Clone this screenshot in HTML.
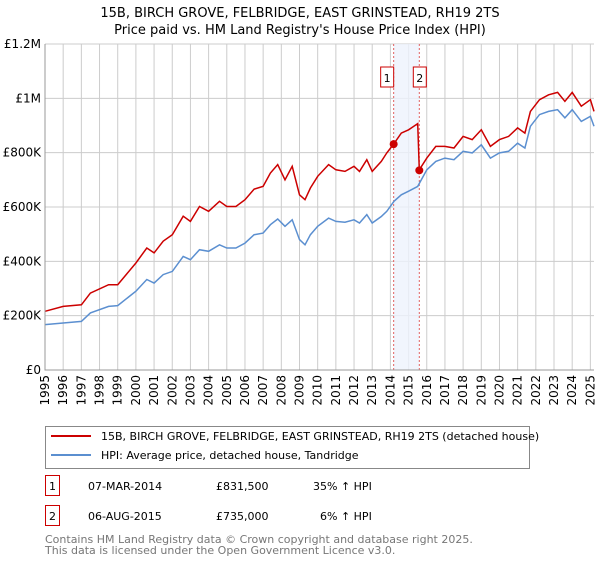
<!DOCTYPE html>
<html><head><meta charset="utf-8"><style>
body{margin:0;background:#fff;font-family:"Liberation Sans","DejaVu Sans",sans-serif;}
svg text{font-family:"DejaVu Sans","Liberation Sans",sans-serif;}
</style></head><body>
<svg id="c" width="600" height="560" xmlns="http://www.w3.org/2000/svg">
<text x="300" y="17" text-anchor="middle" font-size="13" fill="#000">15B, BIRCH GROVE, FELBRIDGE, EAST GRINSTEAD, RH19 2TS</text>
<text x="300" y="34" text-anchor="middle" font-size="13" fill="#000">Price paid vs. HM Land Registry's House Price Index (HPI)</text>
<g id="grid"></g>
<g id="marks"></g>
<g id="axes"></g>
<g>
<rect x="45.5" y="426.5" width="484" height="42" fill="#fff" stroke="#888"/>
<line x1="51" y1="436" x2="91" y2="436" stroke="#cc0000" stroke-width="2"/>
<text x="101" y="440" font-size="11">15B, BIRCH GROVE, FELBRIDGE, EAST GRINSTEAD, RH19 2TS (detached house)</text>
<line x1="51" y1="455" x2="91" y2="455" stroke="#5b8fd0" stroke-width="2"/>
<text x="101" y="459" font-size="11">HPI: Average price, detached house, Tandridge</text>
</g>
<g>
<rect x="45.5" y="475.5" width="14" height="20" fill="none" stroke="#cc0000"/>
<text x="52.5" y="490" font-size="11" text-anchor="middle">1</text>
<text x="88" y="490" font-size="11">07-MAR-2014</text>
<text x="216" y="490" font-size="11">£831,500</text>
<text x="313" y="490" font-size="11">35% ↑ HPI</text>
</g>
<g>
<rect x="45.5" y="505.5" width="14" height="20" fill="none" stroke="#cc0000"/>
<text x="52.5" y="520" font-size="11" text-anchor="middle">2</text>
<text x="88" y="520" font-size="11">06-AUG-2015</text>
<text x="216" y="520" font-size="11">£735,000</text>
<text x="320" y="520" font-size="11">6% ↑ HPI</text>
</g>
<text x="45" y="543" font-size="11" fill="#777">Contains HM Land Registry data © Crown copyright and database right 2025.</text>
<text x="45" y="554" font-size="11" fill="#777">This data is licensed under the Open Government Licence v3.0.</text>
</svg>
<script>
const yTicks=[0,200,400,600,800,1000,1200];
const yTickLabels=["£0","£200K","£400K","£600K","£800K","£1M","£1.2M"];
const xYears=[1995,1996,1997,1998,1999,2000,2001,2002,2003,2004,2005,2006,2007,2008,2009,2010,2011,2012,2013,2014,2015,2016,2017,2018,2019,2020,2021,2022,2023,2024,2025];
const hpiT=[1995,1996,1997,1997.5,1998.5,1999,2000,2000.6,2001,2001.5,2002,2002.6,2003,2003.5,2004,2004.6,2005,2005.5,2006,2006.5,2007,2007.4,2007.8,2008.2,2008.6,2009,2009.3,2009.6,2010,2010.6,2011,2011.5,2012,2012.3,2012.7,2013,2013.5,2013.8,2014.2,2014.6,2015,2015.5,2016,2016.5,2017,2017.5,2018,2018.5,2019,2019.5,2020,2020.5,2021,2021.4,2021.7,2022.2,2022.7,2023.2,2023.6,2024,2024.5,2025,2025.2];
const hpiV=[167,173,179,210,234,237,290,333,320,351,363,418,406,443,437,461,449,449,467,498,504,535,556,529,553,480,461,498,529,559,547,544,553,541,572,541,565,584,621,645,658,676,737,768,780,774,805,799,829,780,799,805,835,817,897,940,952,958,928,958,915,934,897];
const priceT=[1995,1996,1997,1997.5,1998.5,1999,2000,2000.6,2001,2001.5,2002,2002.6,2003,2003.5,2004,2004.6,2005,2005.5,2006,2006.5,2007,2007.4,2007.8,2008.2,2008.6,2009,2009.3,2009.6,2010,2010.6,2011,2011.5,2012,2012.3,2012.7,2013,2013.5,2013.8,2014.18,2014.6,2015,2015.5,2015.59,2016,2016.5,2017,2017.5,2018,2018.5,2019,2019.5,2020,2020.5,2021,2021.4,2021.7,2022.2,2022.7,2023.2,2023.6,2024,2024.5,2025,2025.2];
const priceV=[216,234,240,283,314,314,394,449,431,474,498,566,547,602,584,621,602,602,627,666,676,725,756,700,750,645,627,670,713,756,737,731,750,731,774,731,768,799,832,872,884,907,737,780,823,823,817,860,848,884,823,848,860,891,872,952,995,1013,1022,989,1022,971,995,952];
const saleT=[2014.18,2015.59];
const saleV=[831.5,735];
const saleLabels=["1","2"];
const NS="http://www.w3.org/2000/svg";
const X0=45,X1=594,Y0=370,Y1=44;
const x=t=>X0+(t-1995)/(2025.2-1995)*(X1-X0);
const y=v=>Y0-v/1200*(Y0-Y1);
function mk(tag,attrs,parent){const e=document.createElementNS(NS,tag);for(const k in attrs)e.setAttribute(k,attrs[k]);parent.appendChild(e);return e;}
const grid=document.getElementById('grid'),marks=document.getElementById('marks'),axes=document.getElementById('axes');
yTicks.forEach((v,i)=>{
 const l=mk('line',{x1:X0,x2:X1,y1:y(v),y2:y(v),stroke:'#ccc'},grid);
 
 
 const t=mk('text',{x:X0-4,y:y(v)+4,'font-size':12,'text-anchor':'end'},axes);
 t.textContent=yTickLabels[i];
 
 
});
xYears.forEach(yr=>{
 const l=mk('line',{x1:x(yr),x2:x(yr),y1:Y1,y2:Y0,stroke:'#ccc'},grid);
 
 
 const t=mk('text',{x:0,y:0,'font-size':12,'text-anchor':'end',transform:`translate(${x(yr)+4},${Y0+5}) rotate(-90)`},axes);
 t.textContent=yr;
 
 
});
const band=mk('rect',{x:x(saleT[0]),y:Y1,width:x(saleT[1])-x(saleT[0]),height:Y0-Y1,fill:'#eef3fc',opacity:0.8},marks);


saleT.forEach((t,i)=>{
 const l=mk('line',{x1:x(t),x2:x(t),y1:Y1,y2:Y0,stroke:'#e06060','stroke-dasharray':'2,2'},marks);
 
 
});
function path(T,V,col,name){
 const p=mk('path',{d:T.map((t,i)=>(i?'L':'M')+x(t).toFixed(1)+','+y(V[i]).toFixed(1)).join(''),fill:'none',stroke:col,'stroke-width':1.5},marks);
 
 
}
path(hpiT,hpiV,'#5b8fd0','hpi-line');
path(priceT,priceV,'#cc0000','price-paid-line');
saleT.forEach((t,i)=>{
 const c=mk('circle',{cx:x(t),cy:y(saleV[i]),r:4,fill:'#cc0000'},marks);
 
 
 const bx=x(t)-(i===0?6:-1)-7;
 const r=mk('rect',{x:bx,y:67,width:13,height:20,fill:'#fff',stroke:'#cc0000'},marks);
 
 
 const tx=mk('text',{x:bx+6.5,y:82,'font-size':11,'text-anchor':'middle'},marks);
 tx.textContent=saleLabels[i];
 
 
});
const ax=mk('path',{d:`M${X0},${Y1}V${Y0}H${X1}`,fill:'none',stroke:'#999'},axes);


</script>
</body></html>
